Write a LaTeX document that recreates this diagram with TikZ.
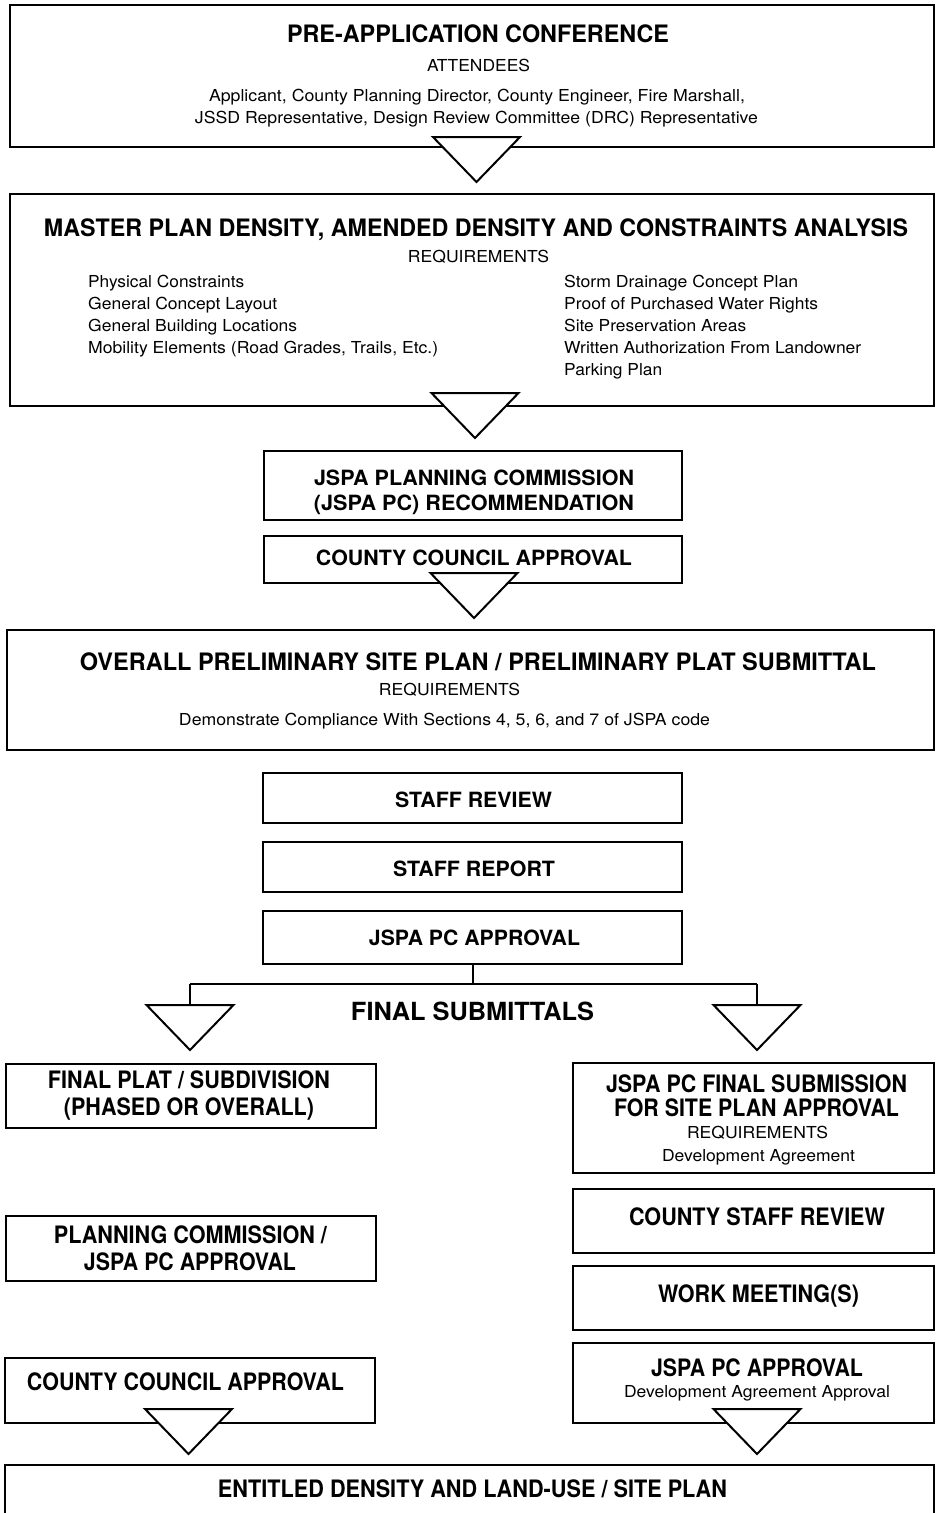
\documentclass[tikz,border=0pt]{standalone}
\usepackage{fontspec}
\setmainfont{TeX Gyre Heros}
\usepackage{graphicx}
\newcommand{\fitw}[2]{\resizebox{#1}{\height}{#2}}
\newcommand{\flowtri}[3]{% name, center x, top y
  \draw[tri] (#2-43.5,#3) -- (#2+43.5,#3) -- (#2,#3+45) -- cycle;
  \coordinate (#1) at (#2,#3);}
\tikzset{
  box/.style={draw, line width=2.4pt, fill=white, inner sep=0pt},
  tri/.style={draw, line width=2pt, fill=white, line join=miter},
  conn/.style={draw, line width=2pt},
  t/.style={inner sep=0pt, anchor=base},
  tl/.style={inner sep=0pt, anchor=base west},
  big/.style={font=\fontsize{24}{24}\selectfont\bfseries},
  bld/.style={font=\fontsize{21}{21}\selectfont\bfseries},
  reg/.style={font=\fontsize{16.5}{16.5}\selectfont},
}
\begin{document}
\begin{tikzpicture}[x=1pt,y=-1pt]
\useasboundingbox (0,0) rectangle (936,1513);
\clip (0,0) rectangle (936,1513);
\fill[white] (0,0) rectangle (936,1513);
% boxes
\node[box, minimum width=924pt, minimum height=142pt] (b1) at (472,76) {};
\node[box, minimum width=924pt, minimum height=212pt] (b2) at (472,300) {};
\node[box, minimum width=418pt, minimum height=69pt] (b3) at (473,485.5) {};
\node[box, minimum width=418pt, minimum height=47pt] (b4) at (473,559.5) {};
\node[box, minimum width=927pt, minimum height=120pt] (b5) at (470.5,690) {};
\node[box, minimum width=419pt, minimum height=50pt] (b6) at (472.5,798) {};
\node[box, minimum width=419pt, minimum height=50pt] (b7) at (472.5,867) {};
\node[box, minimum width=419pt, minimum height=53pt] (b8) at (472.5,937.5) {};
\node[box, minimum width=370pt, minimum height=64pt] (b9) at (191,1096) {};
\node[box, minimum width=361pt, minimum height=110pt] (b10) at (753.5,1118) {};
\node[box, minimum width=361pt, minimum height=64pt] (b11) at (753.5,1221) {};
\node[box, minimum width=361pt, minimum height=64pt] (b12) at (753.5,1298) {};
\node[box, minimum width=361pt, minimum height=80pt] (b13) at (753.5,1383) {};
\node[box, minimum width=370pt, minimum height=65pt] (b14) at (191,1248.5) {};
\node[box, minimum width=370pt, minimum height=65pt] (b15) at (190,1390.5) {};
\node[box, minimum width=929pt, minimum height=70pt] (b16) at (469.5,1500) {};
% connectors for final submittals
\coordinate (split) at (473,984);
\coordinate (splitL) at (190,984);
\coordinate (splitR) at (757,984);
\draw[conn] (b8.south -| split) -- (split);
\draw[conn] (splitL) -- (splitR);
\draw[conn] (splitL) -- (190,1006);
\draw[conn] (splitR) -- (757,1006);
% triangles
\flowtri{t1}{476.5}{137}
\flowtri{t2}{475}{393}
\flowtri{t3}{474}{573}
\flowtri{t4}{190}{1005}
\flowtri{t5}{757}{1005}
\flowtri{t6}{188.5}{1409}
\flowtri{t7}{757}{1409}
% texts
\node[t,big] (x1) at (478,42) {\fitw{382pt}{PRE-APPLICATION CONFERENCE}};
\node[t,reg] (x2) at (478.5,71) {\fitw{103pt}{ATTENDEES}};
\node[t,reg] (x3) at (477,101) {\fitw{536pt}{Applicant, County Planning Director, County Engineer, Fire Marshall,}};
\node[t,reg] (x4) at (476.5,123) {\fitw{563pt}{JSSD Representative, Design Review Committee (DRC) Representative}};

\node[t,big] (x5) at (476,236) {\fitw{864pt}{MASTER PLAN DENSITY, AMENDED DENSITY AND CONSTRAINTS ANALYSIS}};
\node[t,reg] (x6) at (478.5,262) {\fitw{141pt}{REQUIREMENTS}};
\node[tl,reg] (l1) at (88,287) {\fitw{156pt}{Physical Constraints}};
\node[tl,reg] (l2) at (88,309) {\fitw{189pt}{General Concept Layout}};
\node[tl,reg] (l3) at (88,331) {\fitw{209pt}{General Building Locations}};
\node[tl,reg] (l4) at (88,353) {\fitw{350pt}{Mobility Elements (Road Grades, Trails, Etc.)}};
\node[tl,reg] (r1) at (564,287) {\fitw{234pt}{Storm Drainage Concept Plan}};
\node[tl,reg] (r2) at (564,309) {\fitw{254pt}{Proof of Purchased Water Rights}};
\node[tl,reg] (r3) at (564,331) {\fitw{182pt}{Site Preservation Areas}};
\node[tl,reg] (r4) at (564,353) {\fitw{297pt}{Written Authorization From Landowner}};
\node[tl,reg] (r5) at (564,375) {\fitw{98pt}{Parking Plan}};

\node[t,bld] (x7) at (474,485) {\fitw{320pt}{JSPA PLANNING COMMISSION}};
\node[t,bld] (x8) at (474,510) {\fitw{320pt}{(JSPA PC) RECOMMENDATION}};
\node[t,bld] (x9) at (474,565) {\fitw{316pt}{COUNTY COUNCIL APPROVAL}};

\node[t,big] (x10) at (478,670) {\fitw{796pt}{OVERALL PRELIMINARY SITE PLAN / PRELIMINARY PLAT SUBMITTAL}};
\node[t,reg] (x11) at (449.5,695) {\fitw{141pt}{REQUIREMENTS}};
\node[t,reg] (x12) at (444.5,725) {\fitw{531pt}{Demonstrate Compliance With Sections 4, 5, 6, and 7 of JSPA code}};

\node[t,bld] (x13) at (473.5,807) {\fitw{157pt}{STAFF REVIEW}};
\node[t,bld] (x14) at (474,876) {\fitw{162pt}{STAFF REPORT}};
\node[t,bld] (x15) at (474.5,945) {\fitw{211pt}{JSPA PC APPROVAL}};

\node[t,font=\fontsize{25}{25}\selectfont\bfseries] (x16) at (472.5,1020) {\fitw{243pt}{FINAL SUBMITTALS}};

\node[t,big] (x17) at (189,1088) {\fitw{282pt}{FINAL PLAT / SUBDIVISION}};
\node[t,big] (x18) at (189,1115) {\fitw{250pt}{(PHASED OR OVERALL)}};

\node[t,big] (x19) at (756.5,1092) {\fitw{301pt}{JSPA PC FINAL SUBMISSION}};
\node[t,big] (x20) at (756.5,1116) {\fitw{285pt}{FOR SITE PLAN APPROVAL}};
\node[t,reg] (x21) at (757.5,1138) {\fitw{141pt}{REQUIREMENTS}};
\node[t,reg] (x22) at (758.5,1161) {\fitw{193pt}{Development Agreement}};

\node[t,big] (x23) at (757,1225) {\fitw{256pt}{COUNTY STAFF REVIEW}};
\node[t,big] (x24) at (758.5,1302) {\fitw{201pt}{WORK MEETING(S)}};
\node[t,big] (x25) at (757,1376) {\fitw{212pt}{JSPA PC APPROVAL}};
\node[t,reg] (x26) at (757,1397) {\fitw{266pt}{Development Agreement Approval}};

\node[t,big] (x27) at (190.5,1243) {\fitw{273pt}{PLANNING COMMISSION /}};
\node[t,big] (x28) at (190,1270) {\fitw{212pt}{JSPA PC APPROVAL}};
\node[t,big] (x29) at (185.5,1390) {\fitw{317pt}{COUNTY COUNCIL APPROVAL}};

\node[t,big] (x30) at (472.5,1497) {\fitw{509pt}{ENTITLED DENSITY AND LAND-USE / SITE PLAN}};
\end{tikzpicture}
\end{document}
